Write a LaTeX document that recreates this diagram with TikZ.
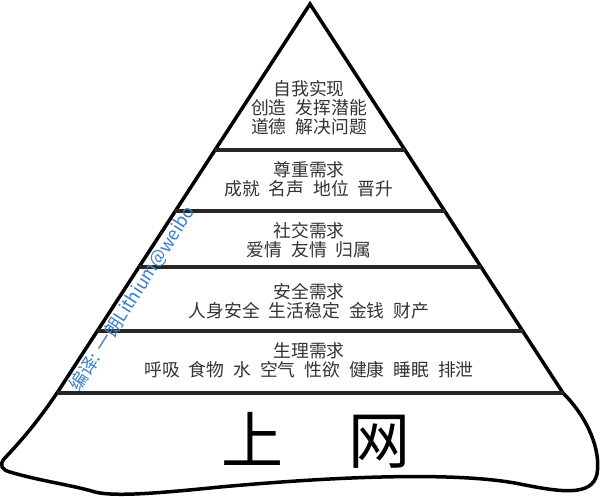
\documentclass[tikz,border=0pt]{standalone}
\usepackage{fontspec}
\newfontfamily\cjk{Noto Sans CJK SC}
\usetikzlibrary{calc}
\definecolor{wmblue}{RGB}{60,128,196}
\tikzset{
    edge/.style = {line width = 3.5pt, black, line join = miter},
    band/.style = {line width = 3.2pt, black!85, line cap = butt},
    lvl/.style = {font = \cjk\fontsize{17.8}{19}\selectfont, text = black!80, align = center, inner sep = 0pt},
}
\begin{document}
\begin{tikzpicture}[x = 1pt, y = -1pt]
            \useasboundingbox (0, 0) rectangle (600, 497);
            \coordinate (A) at (310, 4);
            \coordinate (L) at (57, 393);
            \coordinate (R) at (563, 393);
            % outline: the pyramid, and the wobbly foundation under it
            \draw[edge] (A) -- (L) .. controls (32, 430) and (14, 448) .. (4, 459) .. controls (-1, 465) and (2, 470) .. (10, 472) .. controls (40, 481) and (72, 485) .. (95, 492) .. controls (115, 497) and (160, 493) .. (220, 487) .. controls (330, 477) and (455, 471) .. (520, 484) .. controls (560, 492) and (592, 497) .. (597, 474) .. controls (601, 450) and (588, 418) .. (R) -- cycle;
            % shelves between the levels
            \foreach \t/\n in {0.3753/1, 0.5321/2, 0.6761/3, 0.8406/4}{
                \coordinate (l\n) at ($(A)!\t!(L)$);
                \coordinate (r\n) at ($(A)!\t!(R)$);
                \draw[band] (l\n) -- (r\n);
            }
            \draw[band] (L) -- (R);
            % the levels, top to bottom
            \node[lvl] (self) at (309, 108) {自我实现\\创造\enspace 发挥潜能\\道德\enspace 解决问题};
            \node[lvl] (esteem) at (309, 179) {尊重需求\\成就\enspace 名声\enspace 地位\enspace 晋升};
            \node[lvl] (social) at (309, 240) {社交需求\\爱情\enspace 友情\enspace 归属};
            \node[lvl] (safety) at (309, 301) {安全需求\\人身安全\enspace 生活稳定\enspace 金钱\enspace 财产};
            \node[lvl] (body) at (309, 360) {生理需求\\呼吸\enspace 食物\enspace 水\enspace 空气\enspace 性欲\enspace 健康\enspace 睡眠\enspace 排泄};
            \node[font = \cjk\fontsize{62}{62}\selectfont] (web) at (316, 440) {上\hspace{66pt}网};
            % watermark along the left edge
            \node[font = \cjk\fontsize{18}{18}\selectfont, text = wmblue, rotate = 57.3, inner sep = 0pt] (mark) at ($(A)!0.757!(L) + (14, 0)$) {编译: 一朗Lithium@weibo};
        \end{tikzpicture}
\end{document}
